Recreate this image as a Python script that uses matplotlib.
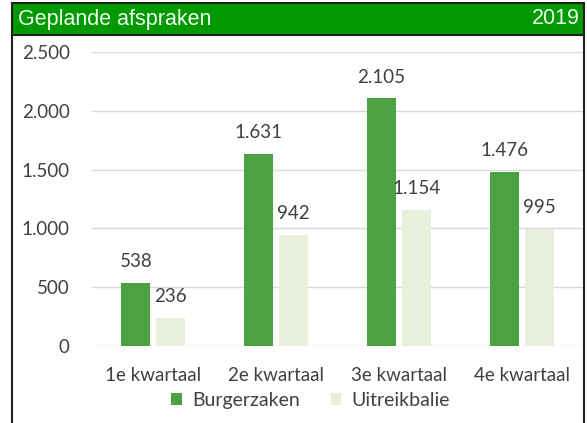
import numpy as np
import matplotlib.pyplot as plt
from matplotlib.patches import Rectangle

kwartalen = ["1e kwartaal", "2e kwartaal", "3e kwartaal", "4e kwartaal"]
burgerzaken = [538, 1631, 2105, 1476]
uitreikbalie = [236, 942, 1154, 995]
labels_b = ["538", "1.631", "2.105", "1.476"]
labels_u = ["236", "942", "1.154", "995"]
yticks = [0, 500, 1000, 1500, 2000, 2500]
ytick_labels = ["0", "500", "1.000", "1.500", "2.000", "2.500"]

plt.rcParams['font.family'] = ['Lato', 'DejaVu Sans']

fig = plt.figure(figsize=(5.87, 4.23), dpi=100)
W, H = 587, 423

def fx(px):
    return px / W

def fy(py):
    return 1 - py / H

ax = fig.add_axes([fx(92), fy(346), fx(583) - fx(92), fy(52) - fy(346)])

x = np.arange(len(kwartalen))
w = 0.235
gap = 0.05
ax.bar(x - (w + gap) / 2, burgerzaken, w, color="#4ca243", label="Burgerzaken", zorder=3)
ax.bar(x + (w + gap) / 2, uitreikbalie, w, color="#e8f0dc", label="Uitreikbalie", zorder=3)

for i in range(len(x)):
    ax.text(x[i] - (w + gap) / 2, burgerzaken[i] + 110, labels_b[i], ha="center", va="bottom",
            fontsize=13.5, color="#404040")
    ax.text(x[i] + (w + gap) / 2, uitreikbalie[i] + 110, labels_u[i], ha="center", va="bottom",
            fontsize=13.5, color="#404040")

ax.set_xlim(-0.5, 3.5)
ax.set_ylim(0, 2500)
ax.set_yticks(yticks)
ax.set_yticklabels(ytick_labels)
ax.set_xticks(x)
ax.set_xticklabels(kwartalen)
ax.tick_params(axis="both", length=0, labelsize=13.5, labelcolor="#404040")
ax.tick_params(axis="y", pad=16)
ax.tick_params(axis="x", pad=15)
ax.grid(axis="y", color="#d9d9d9", linewidth=1, zorder=0)
for s in ax.spines.values():
    s.set_visible(False)

ax.legend(loc="center", bbox_to_anchor=(0.445, -0.184), ncol=2, frameon=False, fontsize=14,
          handlelength=0.55, handleheight=0.55, handletextpad=0.5, columnspacing=1.6,
          labelcolor="#404040", borderpad=0)

# header bar and frame
fig.patches.append(Rectangle((fx(12), fy(35)), fx(584) - fx(12), fy(3) - fy(35),
                             transform=fig.transFigure, facecolor="#009900",
                             edgecolor="#202020", linewidth=1.5))
fig.add_artist(plt.Line2D([fx(12), fx(12)], [fy(35), 0], transform=fig.transFigure,
                          color="#202020", linewidth=1.5))
fig.add_artist(plt.Line2D([fx(584), fx(584)], [fy(35), 0], transform=fig.transFigure,
                          color="#202020", linewidth=1.5))
fig.text(fx(18), fy(19), "Geplande afspraken", fontsize=15.5, color="#f0fff0",
         family="Liberation Sans", va="center", ha="left")
fig.text(fx(580), fy(19), "2019", fontsize=15.5, color="#f0fff0",
         family="Liberation Sans", va="center", ha="right")

fig.savefig("out.png", dpi=100)
